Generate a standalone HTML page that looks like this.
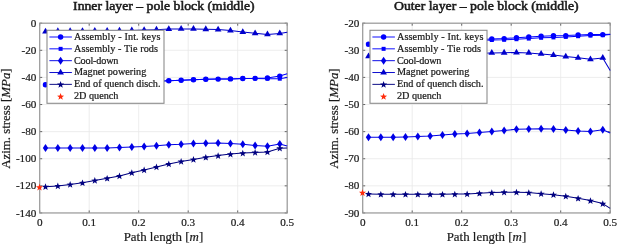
<!DOCTYPE html>
<html><head><meta charset="utf-8"><style>
html,body{margin:0;padding:0;background:#fff;width:617px;height:244px;overflow:hidden}
svg{display:block;will-change:transform}
text{font-family:"Liberation Serif",serif;fill:#1a1a1a}
.tk{font-size:11.2px;stroke:#1a1a1a;stroke-width:0.2px}
.lg{font-size:10.2px;stroke:#1a1a1a;stroke-width:0.22px}
.al{font-size:12.4px;stroke:#1a1a1a;stroke-width:0.2px}
.tt{font-size:13.3px;font-weight:normal;stroke:#1a1a1a;stroke-width:0.55px}
</style></head><body>
<svg width="617" height="244" viewBox="0 0 617 244">
<path d="M89.2 23.2V212.95M138.7 23.2V212.95M188.2 23.2V212.95M237.7 23.2V212.95M39.7 50.31H287.2M39.7 77.41H287.2M39.7 104.52H287.2M39.7 131.63H287.2M39.7 158.74H287.2M39.7 185.84H287.2" stroke="#e8e8e8" stroke-width="0.8" fill="none"/>
<path d="M39.7 212.95v-2.5M39.7 23.2v2.5M89.2 212.95v-2.5M89.2 23.2v2.5M138.7 212.95v-2.5M138.7 23.2v2.5M188.2 212.95v-2.5M188.2 23.2v2.5M237.7 212.95v-2.5M237.7 23.2v2.5M287.2 212.95v-2.5M287.2 23.2v2.5M39.7 23.2h2.5M287.2 23.2h-2.5M39.7 50.31h2.5M287.2 50.31h-2.5M39.7 77.41h2.5M287.2 77.41h-2.5M39.7 104.52h2.5M287.2 104.52h-2.5M39.7 131.63h2.5M287.2 131.63h-2.5M39.7 158.74h2.5M287.2 158.74h-2.5M39.7 185.84h2.5M287.2 185.84h-2.5M39.7 212.95h2.5M287.2 212.95h-2.5" stroke="#404040" stroke-width="0.8" fill="none"/>
<rect x="39.7" y="23.2" width="247.5" height="189.75" stroke="#9a9a9a" stroke-width="1.25" fill="none"/>
<path d="M45.5 84.7 L57.83 84.31 L70.16 83.92 L82.49 83.53 L94.82 83.14 L107.15 82.75 L119.48 82.36 L131.81 81.97 L144.14 81.58 L156.47 81.19 L168.8 80.8 L181.13 80.2 L193.46 79.7 L205.79 79.3 L218.12 79.1 L230.45 78.9 L242.78 78.45 L255.11 78.35 L267.44 77.95 L279.77 76.1 L287.2 73.7" stroke="#0000ff" stroke-width="1.05" fill="none" stroke-linejoin="round"/>
<circle cx="45.5" cy="84.7" r="2.7" fill="#0000ff"/>
<circle cx="57.83" cy="84.31" r="2.7" fill="#0000ff"/>
<circle cx="70.16" cy="83.92" r="2.7" fill="#0000ff"/>
<circle cx="82.49" cy="83.53" r="2.7" fill="#0000ff"/>
<circle cx="94.82" cy="83.14" r="2.7" fill="#0000ff"/>
<circle cx="107.15" cy="82.75" r="2.7" fill="#0000ff"/>
<circle cx="119.48" cy="82.36" r="2.7" fill="#0000ff"/>
<circle cx="131.81" cy="81.97" r="2.7" fill="#0000ff"/>
<circle cx="144.14" cy="81.58" r="2.7" fill="#0000ff"/>
<circle cx="156.47" cy="81.19" r="2.7" fill="#0000ff"/>
<circle cx="168.8" cy="80.8" r="2.7" fill="#0000ff"/>
<circle cx="181.13" cy="80.2" r="2.7" fill="#0000ff"/>
<circle cx="193.46" cy="79.7" r="2.7" fill="#0000ff"/>
<circle cx="205.79" cy="79.3" r="2.7" fill="#0000ff"/>
<circle cx="218.12" cy="79.1" r="2.7" fill="#0000ff"/>
<circle cx="230.45" cy="78.9" r="2.7" fill="#0000ff"/>
<circle cx="242.78" cy="78.45" r="2.7" fill="#0000ff"/>
<circle cx="255.11" cy="78.35" r="2.7" fill="#0000ff"/>
<circle cx="267.44" cy="77.95" r="2.7" fill="#0000ff"/>
<circle cx="279.77" cy="76.1" r="2.7" fill="#0000ff"/>
<path d="M45.5 84.7 L57.83 84.31 L70.16 83.92 L82.49 83.53 L94.82 83.14 L107.15 82.75 L119.48 82.36 L131.81 81.97 L144.14 81.58 L156.47 81.19 L168.8 80.8 L181.13 80.2 L193.46 79.7 L205.79 79.3 L218.12 79.1 L230.45 78.9 L242.78 78.45 L255.11 78.4 L267.44 78.7 L279.77 78.7 L287.2 77.4" stroke="#0000ff" stroke-width="1.05" fill="none" stroke-linejoin="round"/>
<rect x="43.5" y="82.7" width="4.0" height="4.0" fill="#0000ff"/>
<rect x="55.83" y="82.31" width="4.0" height="4.0" fill="#0000ff"/>
<rect x="68.16" y="81.92" width="4.0" height="4.0" fill="#0000ff"/>
<rect x="80.49" y="81.53" width="4.0" height="4.0" fill="#0000ff"/>
<rect x="92.82" y="81.14" width="4.0" height="4.0" fill="#0000ff"/>
<rect x="105.15" y="80.75" width="4.0" height="4.0" fill="#0000ff"/>
<rect x="117.48" y="80.36" width="4.0" height="4.0" fill="#0000ff"/>
<rect x="129.81" y="79.97" width="4.0" height="4.0" fill="#0000ff"/>
<rect x="142.14" y="79.58" width="4.0" height="4.0" fill="#0000ff"/>
<rect x="154.47" y="79.19" width="4.0" height="4.0" fill="#0000ff"/>
<rect x="166.8" y="78.8" width="4.0" height="4.0" fill="#0000ff"/>
<rect x="179.13" y="78.2" width="4.0" height="4.0" fill="#0000ff"/>
<rect x="191.46" y="77.7" width="4.0" height="4.0" fill="#0000ff"/>
<rect x="203.79" y="77.3" width="4.0" height="4.0" fill="#0000ff"/>
<rect x="216.12" y="77.1" width="4.0" height="4.0" fill="#0000ff"/>
<rect x="228.45" y="76.9" width="4.0" height="4.0" fill="#0000ff"/>
<rect x="240.78" y="76.45" width="4.0" height="4.0" fill="#0000ff"/>
<rect x="253.11" y="76.4" width="4.0" height="4.0" fill="#0000ff"/>
<rect x="265.44" y="76.7" width="4.0" height="4.0" fill="#0000ff"/>
<rect x="277.77" y="76.7" width="4.0" height="4.0" fill="#0000ff"/>
<path d="M45.5 147.9 L57.83 147.9 L70.16 147.9 L82.49 147.9 L94.82 147.9 L107.15 147.9 L119.48 147.6 L131.81 147.1 L144.14 146.4 L156.47 145.7 L168.8 144.7 L181.13 144.3 L193.46 143.5 L205.79 143.3 L218.12 143 L230.45 143.5 L242.78 144.3 L255.11 145.5 L267.44 146.2 L279.77 144 L287.2 146" stroke="#0000e6" stroke-width="1.05" fill="none" stroke-linejoin="round"/>
<polygon points="45.5,143.9 48.2,147.9 45.5,151.9 42.8,147.9" fill="#0000e6"/>
<polygon points="57.83,143.9 60.53,147.9 57.83,151.9 55.13,147.9" fill="#0000e6"/>
<polygon points="70.16,143.9 72.86,147.9 70.16,151.9 67.46,147.9" fill="#0000e6"/>
<polygon points="82.49,143.9 85.19,147.9 82.49,151.9 79.79,147.9" fill="#0000e6"/>
<polygon points="94.82,143.9 97.52,147.9 94.82,151.9 92.12,147.9" fill="#0000e6"/>
<polygon points="107.15,143.9 109.85,147.9 107.15,151.9 104.45,147.9" fill="#0000e6"/>
<polygon points="119.48,143.6 122.18,147.6 119.48,151.6 116.78,147.6" fill="#0000e6"/>
<polygon points="131.81,143.1 134.51,147.1 131.81,151.1 129.11,147.1" fill="#0000e6"/>
<polygon points="144.14,142.4 146.84,146.4 144.14,150.4 141.44,146.4" fill="#0000e6"/>
<polygon points="156.47,141.7 159.17,145.7 156.47,149.7 153.77,145.7" fill="#0000e6"/>
<polygon points="168.8,140.7 171.5,144.7 168.8,148.7 166.1,144.7" fill="#0000e6"/>
<polygon points="181.13,140.3 183.83,144.3 181.13,148.3 178.43,144.3" fill="#0000e6"/>
<polygon points="193.46,139.5 196.16,143.5 193.46,147.5 190.76,143.5" fill="#0000e6"/>
<polygon points="205.79,139.3 208.49,143.3 205.79,147.3 203.09,143.3" fill="#0000e6"/>
<polygon points="218.12,139 220.82,143 218.12,147 215.42,143" fill="#0000e6"/>
<polygon points="230.45,139.5 233.15,143.5 230.45,147.5 227.75,143.5" fill="#0000e6"/>
<polygon points="242.78,140.3 245.48,144.3 242.78,148.3 240.08,144.3" fill="#0000e6"/>
<polygon points="255.11,141.5 257.81,145.5 255.11,149.5 252.41,145.5" fill="#0000e6"/>
<polygon points="267.44,142.2 270.14,146.2 267.44,150.2 264.74,146.2" fill="#0000e6"/>
<polygon points="279.77,140 282.47,144 279.77,148 277.07,144" fill="#0000e6"/>
<path d="M45.5 31.5 L57.83 31.2 L70.16 31.1 L82.49 31 L94.82 30.9 L107.15 30.8 L119.48 30.6 L131.81 30.4 L144.14 30.1 L156.47 29.7 L168.8 29.1 L181.13 28.9 L193.46 28.9 L205.79 29.2 L218.12 29.6 L230.45 30.6 L242.78 32 L255.11 33.3 L267.44 34.4 L279.77 33.4 L287.2 32.2" stroke="#0000cc" stroke-width="1.05" fill="none" stroke-linejoin="round"/>
<polygon points="45.5,27.63 48.85,33.43 42.15,33.43" fill="#0000cc"/>
<polygon points="57.83,27.33 61.18,33.13 54.48,33.13" fill="#0000cc"/>
<polygon points="70.16,27.23 73.51,33.03 66.81,33.03" fill="#0000cc"/>
<polygon points="82.49,27.13 85.84,32.93 79.14,32.93" fill="#0000cc"/>
<polygon points="94.82,27.03 98.17,32.83 91.47,32.83" fill="#0000cc"/>
<polygon points="107.15,26.93 110.5,32.73 103.8,32.73" fill="#0000cc"/>
<polygon points="119.48,26.73 122.83,32.53 116.13,32.53" fill="#0000cc"/>
<polygon points="131.81,26.53 135.16,32.33 128.46,32.33" fill="#0000cc"/>
<polygon points="144.14,26.23 147.49,32.03 140.79,32.03" fill="#0000cc"/>
<polygon points="156.47,25.83 159.82,31.63 153.12,31.63" fill="#0000cc"/>
<polygon points="168.8,25.23 172.15,31.03 165.45,31.03" fill="#0000cc"/>
<polygon points="181.13,25.03 184.48,30.83 177.78,30.83" fill="#0000cc"/>
<polygon points="193.46,25.03 196.81,30.83 190.11,30.83" fill="#0000cc"/>
<polygon points="205.79,25.33 209.14,31.13 202.44,31.13" fill="#0000cc"/>
<polygon points="218.12,25.73 221.47,31.53 214.77,31.53" fill="#0000cc"/>
<polygon points="230.45,26.73 233.8,32.53 227.1,32.53" fill="#0000cc"/>
<polygon points="242.78,28.13 246.13,33.93 239.43,33.93" fill="#0000cc"/>
<polygon points="255.11,29.43 258.46,35.23 251.76,35.23" fill="#0000cc"/>
<polygon points="267.44,30.53 270.79,36.33 264.09,36.33" fill="#0000cc"/>
<polygon points="279.77,29.53 283.12,35.33 276.42,35.33" fill="#0000cc"/>
<path d="M45.5 186.7 L57.83 185.9 L70.16 184.5 L82.49 182.8 L94.82 180.5 L107.15 178.3 L119.48 175.9 L131.81 172.7 L144.14 170 L156.47 167 L168.8 163.9 L181.13 161.4 L193.46 159.5 L205.79 157.3 L218.12 155.6 L230.45 154.1 L242.78 153.1 L255.11 152.4 L267.44 152 L279.77 148.2 L287.2 148" stroke="#000080" stroke-width="1.05" fill="none" stroke-linejoin="round"/>
<polygon points="45.5,183.3 46.41,185.74 49.02,185.86 46.98,187.48 47.67,189.99 45.5,188.55 43.33,189.99 44.02,187.48 41.98,185.86 44.59,185.74" fill="#000080"/>
<polygon points="57.83,182.5 58.74,184.94 61.35,185.06 59.31,186.68 60,189.19 57.83,187.75 55.66,189.19 56.35,186.68 54.31,185.06 56.92,184.94" fill="#000080"/>
<polygon points="70.16,181.1 71.07,183.54 73.68,183.66 71.64,185.28 72.33,187.79 70.16,186.35 67.99,187.79 68.68,185.28 66.64,183.66 69.25,183.54" fill="#000080"/>
<polygon points="82.49,179.4 83.4,181.84 86.01,181.96 83.97,183.58 84.66,186.09 82.49,184.65 80.32,186.09 81.01,183.58 78.97,181.96 81.58,181.84" fill="#000080"/>
<polygon points="94.82,177.1 95.73,179.54 98.34,179.66 96.3,181.28 96.99,183.79 94.82,182.35 92.65,183.79 93.34,181.28 91.3,179.66 93.91,179.54" fill="#000080"/>
<polygon points="107.15,174.9 108.06,177.34 110.67,177.46 108.63,179.08 109.32,181.59 107.15,180.15 104.98,181.59 105.67,179.08 103.63,177.46 106.24,177.34" fill="#000080"/>
<polygon points="119.48,172.5 120.39,174.94 123,175.06 120.96,176.68 121.65,179.19 119.48,177.75 117.31,179.19 118,176.68 115.96,175.06 118.57,174.94" fill="#000080"/>
<polygon points="131.81,169.3 132.72,171.74 135.33,171.86 133.29,173.48 133.98,175.99 131.81,174.55 129.64,175.99 130.33,173.48 128.29,171.86 130.9,171.74" fill="#000080"/>
<polygon points="144.14,166.6 145.05,169.04 147.66,169.16 145.62,170.78 146.31,173.29 144.14,171.85 141.97,173.29 142.66,170.78 140.62,169.16 143.23,169.04" fill="#000080"/>
<polygon points="156.47,163.6 157.38,166.04 159.99,166.16 157.95,167.78 158.64,170.29 156.47,168.85 154.3,170.29 154.99,167.78 152.95,166.16 155.56,166.04" fill="#000080"/>
<polygon points="168.8,160.5 169.71,162.94 172.32,163.06 170.28,164.68 170.97,167.19 168.8,165.75 166.63,167.19 167.32,164.68 165.28,163.06 167.89,162.94" fill="#000080"/>
<polygon points="181.13,158 182.04,160.44 184.65,160.56 182.61,162.18 183.3,164.69 181.13,163.25 178.96,164.69 179.65,162.18 177.61,160.56 180.22,160.44" fill="#000080"/>
<polygon points="193.46,156.1 194.37,158.54 196.98,158.66 194.94,160.28 195.63,162.79 193.46,161.35 191.29,162.79 191.98,160.28 189.94,158.66 192.55,158.54" fill="#000080"/>
<polygon points="205.79,153.9 206.7,156.34 209.31,156.46 207.27,158.08 207.96,160.59 205.79,159.15 203.62,160.59 204.31,158.08 202.27,156.46 204.88,156.34" fill="#000080"/>
<polygon points="218.12,152.2 219.03,154.64 221.64,154.76 219.6,156.38 220.29,158.89 218.12,157.45 215.95,158.89 216.64,156.38 214.6,154.76 217.21,154.64" fill="#000080"/>
<polygon points="230.45,150.7 231.36,153.14 233.97,153.26 231.93,154.88 232.62,157.39 230.45,155.95 228.28,157.39 228.97,154.88 226.93,153.26 229.54,153.14" fill="#000080"/>
<polygon points="242.78,149.7 243.69,152.14 246.3,152.26 244.26,153.88 244.95,156.39 242.78,154.95 240.61,156.39 241.3,153.88 239.26,152.26 241.87,152.14" fill="#000080"/>
<polygon points="255.11,149 256.02,151.44 258.63,151.56 256.59,153.18 257.28,155.69 255.11,154.25 252.94,155.69 253.63,153.18 251.59,151.56 254.2,151.44" fill="#000080"/>
<polygon points="267.44,148.6 268.35,151.04 270.96,151.16 268.92,152.78 269.61,155.29 267.44,153.85 265.27,155.29 265.96,152.78 263.92,151.16 266.53,151.04" fill="#000080"/>
<polygon points="279.77,144.8 280.68,147.24 283.29,147.36 281.25,148.98 281.94,151.49 279.77,150.05 277.6,151.49 278.29,148.98 276.25,147.36 278.86,147.24" fill="#000080"/>
<polygon points="39.5,183.8 40.41,186.24 43.02,186.36 40.98,187.98 41.67,190.49 39.5,189.05 37.33,190.49 38.02,187.98 35.98,186.36 38.59,186.24" fill="#ff2a0a"/>
<text x="36.4" y="26.8" text-anchor="end" class="tk">0</text>
<text x="36.4" y="53.91" text-anchor="end" class="tk">-20</text>
<text x="36.4" y="81.01" text-anchor="end" class="tk">-40</text>
<text x="36.4" y="108.12" text-anchor="end" class="tk">-60</text>
<text x="36.4" y="135.23" text-anchor="end" class="tk">-80</text>
<text x="36.4" y="162.34" text-anchor="end" class="tk">-100</text>
<text x="36.4" y="189.44" text-anchor="end" class="tk">-120</text>
<text x="36.4" y="216.55" text-anchor="end" class="tk">-140</text>
<text x="39.7" y="226.2" text-anchor="middle" class="tk">0</text>
<text x="89.2" y="226.2" text-anchor="middle" class="tk">0.1</text>
<text x="138.7" y="226.2" text-anchor="middle" class="tk">0.2</text>
<text x="188.2" y="226.2" text-anchor="middle" class="tk">0.3</text>
<text x="237.7" y="226.2" text-anchor="middle" class="tk">0.4</text>
<text x="287.2" y="226.2" text-anchor="middle" class="tk">0.5</text>
<rect x="47" y="30.3" width="117" height="73" fill="#fff" stroke="#8c8c8c" stroke-width="1.1"/>
<path d="M49.4 37H71.9" stroke="#0000ff" stroke-width="0.95"/>
<circle cx="60.6" cy="37" r="2.7" fill="#0000ff"/>
<text x="74" y="39.9" class="lg" textLength="86.4" lengthAdjust="spacing">Assembly - Int. keys</text>
<path d="M49.4 48.84H71.9" stroke="#0000ff" stroke-width="0.95"/>
<rect x="58.6" y="46.84" width="4.0" height="4.0" fill="#0000ff"/>
<text x="74" y="51.74" class="lg" textLength="84" lengthAdjust="spacing">Assembly - Tie rods</text>
<path d="M49.4 60.68H71.9" stroke="#0000e6" stroke-width="0.95"/>
<polygon points="60.6,56.68 63.3,60.68 60.6,64.68 57.9,60.68" fill="#0000e6"/>
<text x="74" y="63.58" class="lg" textLength="44.4" lengthAdjust="spacing">Cool-down</text>
<path d="M49.4 72.52H71.9" stroke="#0000cc" stroke-width="0.95"/>
<polygon points="60.6,68.65 63.95,74.45 57.25,74.45" fill="#0000cc"/>
<text x="74" y="75.42" class="lg" textLength="72.3" lengthAdjust="spacing">Magnet powering</text>
<path d="M49.4 84.36H71.9" stroke="#000080" stroke-width="0.95"/>
<polygon points="60.6,80.96 61.51,83.4 64.12,83.52 62.08,85.14 62.77,87.65 60.6,86.21 58.43,87.65 59.12,85.14 57.08,83.52 59.69,83.4" fill="#000080"/>
<text x="74" y="87.26" class="lg" textLength="86.5" lengthAdjust="spacing">End of quench disch.</text>
<polygon points="60.6,93.1 61.51,95.54 64.12,95.66 62.08,97.28 62.77,99.79 60.6,98.35 58.43,99.79 59.12,97.28 57.08,95.66 59.69,95.54" fill="#ff2a0a"/>
<text x="74" y="99.1" class="lg" textLength="44.4" lengthAdjust="spacing">2D quench</text>
<text transform="translate(163.85,9.9) scale(1.0307,1)" x="0" y="0" text-anchor="middle" class="tt">Inner layer – pole block (middle)</text>
<text x="163.45" y="240.6" text-anchor="middle" class="al" textLength="79.5" lengthAdjust="spacingAndGlyphs">Path length [<tspan font-style="italic">m</tspan>]</text>
<text transform="translate(9.9,118.6) rotate(-90)" text-anchor="middle" class="al" textLength="100.5" lengthAdjust="spacingAndGlyphs">Azim. stress [<tspan font-style="italic">MPa</tspan>]</text>
<path d="M412.2 23.2V212.95M461.7 23.2V212.95M511.2 23.2V212.95M560.7 23.2V212.95M362.7 50.31H610.2M362.7 77.41H610.2M362.7 104.52H610.2M362.7 131.63H610.2M362.7 158.74H610.2M362.7 185.84H610.2" stroke="#e8e8e8" stroke-width="0.8" fill="none"/>
<path d="M362.7 212.95v-2.5M362.7 23.2v2.5M412.2 212.95v-2.5M412.2 23.2v2.5M461.7 212.95v-2.5M461.7 23.2v2.5M511.2 212.95v-2.5M511.2 23.2v2.5M560.7 212.95v-2.5M560.7 23.2v2.5M610.2 212.95v-2.5M610.2 23.2v2.5M362.7 23.2h2.5M610.2 23.2h-2.5M362.7 50.31h2.5M610.2 50.31h-2.5M362.7 77.41h2.5M610.2 77.41h-2.5M362.7 104.52h2.5M610.2 104.52h-2.5M362.7 131.63h2.5M610.2 131.63h-2.5M362.7 158.74h2.5M610.2 158.74h-2.5M362.7 185.84h2.5M610.2 185.84h-2.5M362.7 212.95h2.5M610.2 212.95h-2.5" stroke="#404040" stroke-width="0.8" fill="none"/>
<rect x="362.7" y="23.2" width="247.5" height="189.75" stroke="#9a9a9a" stroke-width="1.25" fill="none"/>
<path d="M368.5 44.1 L380.83 43.59 L393.16 43.08 L405.49 42.57 L417.82 42.06 L430.15 41.55 L442.48 41.04 L454.81 40.53 L467.14 40.02 L479.47 39.51 L491.8 39 L504.13 38.6 L516.46 37.8 L528.79 37 L541.12 36.2 L553.45 35.8 L565.78 35.6 L578.11 35 L590.44 34.6 L602.77 34.6 L610.2 34.3" stroke="#0000ff" stroke-width="1.05" fill="none" stroke-linejoin="round"/>
<circle cx="368.5" cy="44.1" r="2.7" fill="#0000ff"/>
<circle cx="380.83" cy="43.59" r="2.7" fill="#0000ff"/>
<circle cx="393.16" cy="43.08" r="2.7" fill="#0000ff"/>
<circle cx="405.49" cy="42.57" r="2.7" fill="#0000ff"/>
<circle cx="417.82" cy="42.06" r="2.7" fill="#0000ff"/>
<circle cx="430.15" cy="41.55" r="2.7" fill="#0000ff"/>
<circle cx="442.48" cy="41.04" r="2.7" fill="#0000ff"/>
<circle cx="454.81" cy="40.53" r="2.7" fill="#0000ff"/>
<circle cx="467.14" cy="40.02" r="2.7" fill="#0000ff"/>
<circle cx="479.47" cy="39.51" r="2.7" fill="#0000ff"/>
<circle cx="491.8" cy="39" r="2.7" fill="#0000ff"/>
<circle cx="504.13" cy="38.6" r="2.7" fill="#0000ff"/>
<circle cx="516.46" cy="37.8" r="2.7" fill="#0000ff"/>
<circle cx="528.79" cy="37" r="2.7" fill="#0000ff"/>
<circle cx="541.12" cy="36.2" r="2.7" fill="#0000ff"/>
<circle cx="553.45" cy="35.8" r="2.7" fill="#0000ff"/>
<circle cx="565.78" cy="35.6" r="2.7" fill="#0000ff"/>
<circle cx="578.11" cy="35" r="2.7" fill="#0000ff"/>
<circle cx="590.44" cy="34.6" r="2.7" fill="#0000ff"/>
<circle cx="602.77" cy="34.6" r="2.7" fill="#0000ff"/>
<path d="M368.5 44.6 L380.83 44.14 L393.16 43.68 L405.49 43.22 L417.82 42.76 L430.15 42.3 L442.48 41.84 L454.81 41.38 L467.14 40.92 L479.47 40.46 L491.8 40 L504.13 39.8 L516.46 39.2 L528.79 38.6 L541.12 37.8 L553.45 37.4 L565.78 36.9 L578.11 36.2 L590.44 35.6 L602.77 35.2 L610.2 34.6" stroke="#0000ff" stroke-width="1.05" fill="none" stroke-linejoin="round"/>
<rect x="366.5" y="42.6" width="4.0" height="4.0" fill="#0000ff"/>
<rect x="378.83" y="42.14" width="4.0" height="4.0" fill="#0000ff"/>
<rect x="391.16" y="41.68" width="4.0" height="4.0" fill="#0000ff"/>
<rect x="403.49" y="41.22" width="4.0" height="4.0" fill="#0000ff"/>
<rect x="415.82" y="40.76" width="4.0" height="4.0" fill="#0000ff"/>
<rect x="428.15" y="40.3" width="4.0" height="4.0" fill="#0000ff"/>
<rect x="440.48" y="39.84" width="4.0" height="4.0" fill="#0000ff"/>
<rect x="452.81" y="39.38" width="4.0" height="4.0" fill="#0000ff"/>
<rect x="465.14" y="38.92" width="4.0" height="4.0" fill="#0000ff"/>
<rect x="477.47" y="38.46" width="4.0" height="4.0" fill="#0000ff"/>
<rect x="489.8" y="38" width="4.0" height="4.0" fill="#0000ff"/>
<rect x="502.13" y="37.8" width="4.0" height="4.0" fill="#0000ff"/>
<rect x="514.46" y="37.2" width="4.0" height="4.0" fill="#0000ff"/>
<rect x="526.79" y="36.6" width="4.0" height="4.0" fill="#0000ff"/>
<rect x="539.12" y="35.8" width="4.0" height="4.0" fill="#0000ff"/>
<rect x="551.45" y="35.4" width="4.0" height="4.0" fill="#0000ff"/>
<rect x="563.78" y="34.9" width="4.0" height="4.0" fill="#0000ff"/>
<rect x="576.11" y="34.2" width="4.0" height="4.0" fill="#0000ff"/>
<rect x="588.44" y="33.6" width="4.0" height="4.0" fill="#0000ff"/>
<rect x="600.77" y="33.2" width="4.0" height="4.0" fill="#0000ff"/>
<path d="M368.5 137.2 L380.83 137.2 L393.16 137.2 L405.49 137 L417.82 136.6 L430.15 136 L442.48 134.9 L454.81 134.1 L467.14 133.4 L479.47 132.4 L491.8 131.4 L504.13 130.4 L516.46 129.3 L528.79 128.9 L541.12 128.7 L553.45 129.1 L565.78 130.1 L578.11 131 L590.44 131.6 L602.77 129.7 L610.2 132.9" stroke="#0000e6" stroke-width="1.05" fill="none" stroke-linejoin="round"/>
<polygon points="368.5,133.2 371.2,137.2 368.5,141.2 365.8,137.2" fill="#0000e6"/>
<polygon points="380.83,133.2 383.53,137.2 380.83,141.2 378.13,137.2" fill="#0000e6"/>
<polygon points="393.16,133.2 395.86,137.2 393.16,141.2 390.46,137.2" fill="#0000e6"/>
<polygon points="405.49,133 408.19,137 405.49,141 402.79,137" fill="#0000e6"/>
<polygon points="417.82,132.6 420.52,136.6 417.82,140.6 415.12,136.6" fill="#0000e6"/>
<polygon points="430.15,132 432.85,136 430.15,140 427.45,136" fill="#0000e6"/>
<polygon points="442.48,130.9 445.18,134.9 442.48,138.9 439.78,134.9" fill="#0000e6"/>
<polygon points="454.81,130.1 457.51,134.1 454.81,138.1 452.11,134.1" fill="#0000e6"/>
<polygon points="467.14,129.4 469.84,133.4 467.14,137.4 464.44,133.4" fill="#0000e6"/>
<polygon points="479.47,128.4 482.17,132.4 479.47,136.4 476.77,132.4" fill="#0000e6"/>
<polygon points="491.8,127.4 494.5,131.4 491.8,135.4 489.1,131.4" fill="#0000e6"/>
<polygon points="504.13,126.4 506.83,130.4 504.13,134.4 501.43,130.4" fill="#0000e6"/>
<polygon points="516.46,125.3 519.16,129.3 516.46,133.3 513.76,129.3" fill="#0000e6"/>
<polygon points="528.79,124.9 531.49,128.9 528.79,132.9 526.09,128.9" fill="#0000e6"/>
<polygon points="541.12,124.7 543.82,128.7 541.12,132.7 538.42,128.7" fill="#0000e6"/>
<polygon points="553.45,125.1 556.15,129.1 553.45,133.1 550.75,129.1" fill="#0000e6"/>
<polygon points="565.78,126.1 568.48,130.1 565.78,134.1 563.08,130.1" fill="#0000e6"/>
<polygon points="578.11,127 580.81,131 578.11,135 575.41,131" fill="#0000e6"/>
<polygon points="590.44,127.6 593.14,131.6 590.44,135.6 587.74,131.6" fill="#0000e6"/>
<polygon points="602.77,125.7 605.47,129.7 602.77,133.7 600.07,129.7" fill="#0000e6"/>
<path d="M368.5 56.3 L380.83 55.96 L393.16 55.62 L405.49 55.28 L417.82 54.94 L430.15 54.6 L442.48 54.26 L454.81 53.92 L467.14 53.58 L479.47 53.24 L491.8 52.9 L504.13 52.7 L516.46 52.5 L528.79 52.9 L541.12 53.9 L553.45 55 L565.78 56.5 L578.11 57.8 L590.44 59.3 L602.77 57.9 L610.2 70.5" stroke="#0000cc" stroke-width="1.05" fill="none" stroke-linejoin="round"/>
<polygon points="368.5,52.43 371.85,58.23 365.15,58.23" fill="#0000cc"/>
<polygon points="380.83,52.09 384.18,57.89 377.48,57.89" fill="#0000cc"/>
<polygon points="393.16,51.75 396.51,57.55 389.81,57.55" fill="#0000cc"/>
<polygon points="405.49,51.41 408.84,57.21 402.14,57.21" fill="#0000cc"/>
<polygon points="417.82,51.07 421.17,56.87 414.47,56.87" fill="#0000cc"/>
<polygon points="430.15,50.73 433.5,56.53 426.8,56.53" fill="#0000cc"/>
<polygon points="442.48,50.39 445.83,56.19 439.13,56.19" fill="#0000cc"/>
<polygon points="454.81,50.05 458.16,55.85 451.46,55.85" fill="#0000cc"/>
<polygon points="467.14,49.71 470.49,55.51 463.79,55.51" fill="#0000cc"/>
<polygon points="479.47,49.37 482.82,55.17 476.12,55.17" fill="#0000cc"/>
<polygon points="491.8,49.03 495.15,54.83 488.45,54.83" fill="#0000cc"/>
<polygon points="504.13,48.83 507.48,54.63 500.78,54.63" fill="#0000cc"/>
<polygon points="516.46,48.63 519.81,54.43 513.11,54.43" fill="#0000cc"/>
<polygon points="528.79,49.03 532.14,54.83 525.44,54.83" fill="#0000cc"/>
<polygon points="541.12,50.03 544.47,55.83 537.77,55.83" fill="#0000cc"/>
<polygon points="553.45,51.13 556.8,56.93 550.1,56.93" fill="#0000cc"/>
<polygon points="565.78,52.63 569.13,58.43 562.43,58.43" fill="#0000cc"/>
<polygon points="578.11,53.93 581.46,59.73 574.76,59.73" fill="#0000cc"/>
<polygon points="590.44,55.43 593.79,61.23 587.09,61.23" fill="#0000cc"/>
<polygon points="602.77,54.03 606.12,59.83 599.42,59.83" fill="#0000cc"/>
<path d="M368.5 193.9 L380.83 194.3 L393.16 194.3 L405.49 194.3 L417.82 194.3 L430.15 194.3 L442.48 194.3 L454.81 194.1 L467.14 193.9 L479.47 193.3 L491.8 192.6 L504.13 192.2 L516.46 192.2 L528.79 192.6 L541.12 193.7 L553.45 194.7 L565.78 196.2 L578.11 198.3 L590.44 200.6 L602.77 203.6 L610.2 208.4" stroke="#000080" stroke-width="1.05" fill="none" stroke-linejoin="round"/>
<polygon points="368.5,190.5 369.41,192.94 372.02,193.06 369.98,194.68 370.67,197.19 368.5,195.75 366.33,197.19 367.02,194.68 364.98,193.06 367.59,192.94" fill="#000080"/>
<polygon points="380.83,190.9 381.74,193.34 384.35,193.46 382.31,195.08 383,197.59 380.83,196.15 378.66,197.59 379.35,195.08 377.31,193.46 379.92,193.34" fill="#000080"/>
<polygon points="393.16,190.9 394.07,193.34 396.68,193.46 394.64,195.08 395.33,197.59 393.16,196.15 390.99,197.59 391.68,195.08 389.64,193.46 392.25,193.34" fill="#000080"/>
<polygon points="405.49,190.9 406.4,193.34 409.01,193.46 406.97,195.08 407.66,197.59 405.49,196.15 403.32,197.59 404.01,195.08 401.97,193.46 404.58,193.34" fill="#000080"/>
<polygon points="417.82,190.9 418.73,193.34 421.34,193.46 419.3,195.08 419.99,197.59 417.82,196.15 415.65,197.59 416.34,195.08 414.3,193.46 416.91,193.34" fill="#000080"/>
<polygon points="430.15,190.9 431.06,193.34 433.67,193.46 431.63,195.08 432.32,197.59 430.15,196.15 427.98,197.59 428.67,195.08 426.63,193.46 429.24,193.34" fill="#000080"/>
<polygon points="442.48,190.9 443.39,193.34 446,193.46 443.96,195.08 444.65,197.59 442.48,196.15 440.31,197.59 441,195.08 438.96,193.46 441.57,193.34" fill="#000080"/>
<polygon points="454.81,190.7 455.72,193.14 458.33,193.26 456.29,194.88 456.98,197.39 454.81,195.95 452.64,197.39 453.33,194.88 451.29,193.26 453.9,193.14" fill="#000080"/>
<polygon points="467.14,190.5 468.05,192.94 470.66,193.06 468.62,194.68 469.31,197.19 467.14,195.75 464.97,197.19 465.66,194.68 463.62,193.06 466.23,192.94" fill="#000080"/>
<polygon points="479.47,189.9 480.38,192.34 482.99,192.46 480.95,194.08 481.64,196.59 479.47,195.15 477.3,196.59 477.99,194.08 475.95,192.46 478.56,192.34" fill="#000080"/>
<polygon points="491.8,189.2 492.71,191.64 495.32,191.76 493.28,193.38 493.97,195.89 491.8,194.45 489.63,195.89 490.32,193.38 488.28,191.76 490.89,191.64" fill="#000080"/>
<polygon points="504.13,188.8 505.04,191.24 507.65,191.36 505.61,192.98 506.3,195.49 504.13,194.05 501.96,195.49 502.65,192.98 500.61,191.36 503.22,191.24" fill="#000080"/>
<polygon points="516.46,188.8 517.37,191.24 519.98,191.36 517.94,192.98 518.63,195.49 516.46,194.05 514.29,195.49 514.98,192.98 512.94,191.36 515.55,191.24" fill="#000080"/>
<polygon points="528.79,189.2 529.7,191.64 532.31,191.76 530.27,193.38 530.96,195.89 528.79,194.45 526.62,195.89 527.31,193.38 525.27,191.76 527.88,191.64" fill="#000080"/>
<polygon points="541.12,190.3 542.03,192.74 544.64,192.86 542.6,194.48 543.29,196.99 541.12,195.55 538.95,196.99 539.64,194.48 537.6,192.86 540.21,192.74" fill="#000080"/>
<polygon points="553.45,191.3 554.36,193.74 556.97,193.86 554.93,195.48 555.62,197.99 553.45,196.55 551.28,197.99 551.97,195.48 549.93,193.86 552.54,193.74" fill="#000080"/>
<polygon points="565.78,192.8 566.69,195.24 569.3,195.36 567.26,196.98 567.95,199.49 565.78,198.05 563.61,199.49 564.3,196.98 562.26,195.36 564.87,195.24" fill="#000080"/>
<polygon points="578.11,194.9 579.02,197.34 581.63,197.46 579.59,199.08 580.28,201.59 578.11,200.15 575.94,201.59 576.63,199.08 574.59,197.46 577.2,197.34" fill="#000080"/>
<polygon points="590.44,197.2 591.35,199.64 593.96,199.76 591.92,201.38 592.61,203.89 590.44,202.45 588.27,203.89 588.96,201.38 586.92,199.76 589.53,199.64" fill="#000080"/>
<polygon points="602.77,200.2 603.68,202.64 606.29,202.76 604.25,204.38 604.94,206.89 602.77,205.45 600.6,206.89 601.29,204.38 599.25,202.76 601.86,202.64" fill="#000080"/>
<polygon points="362.5,189.2 363.41,191.64 366.02,191.76 363.98,193.38 364.67,195.89 362.5,194.45 360.33,195.89 361.02,193.38 358.98,191.76 361.59,191.64" fill="#ff2a0a"/>
<text x="359.4" y="26.8" text-anchor="end" class="tk">-20</text>
<text x="359.4" y="53.91" text-anchor="end" class="tk">-30</text>
<text x="359.4" y="81.01" text-anchor="end" class="tk">-40</text>
<text x="359.4" y="108.12" text-anchor="end" class="tk">-50</text>
<text x="359.4" y="135.23" text-anchor="end" class="tk">-60</text>
<text x="359.4" y="162.34" text-anchor="end" class="tk">-70</text>
<text x="359.4" y="189.44" text-anchor="end" class="tk">-80</text>
<text x="359.4" y="216.55" text-anchor="end" class="tk">-90</text>
<text x="362.7" y="226.2" text-anchor="middle" class="tk">0</text>
<text x="412.2" y="226.2" text-anchor="middle" class="tk">0.1</text>
<text x="461.7" y="226.2" text-anchor="middle" class="tk">0.2</text>
<text x="511.2" y="226.2" text-anchor="middle" class="tk">0.3</text>
<text x="560.7" y="226.2" text-anchor="middle" class="tk">0.4</text>
<text x="610.2" y="226.2" text-anchor="middle" class="tk">0.5</text>
<rect x="370" y="30.3" width="117" height="73" fill="#fff" stroke="#8c8c8c" stroke-width="1.1"/>
<path d="M372.4 37H394.9" stroke="#0000ff" stroke-width="0.95"/>
<circle cx="383.6" cy="37" r="2.7" fill="#0000ff"/>
<text x="397" y="39.9" class="lg" textLength="86.4" lengthAdjust="spacing">Assembly - Int. keys</text>
<path d="M372.4 48.84H394.9" stroke="#0000ff" stroke-width="0.95"/>
<rect x="381.6" y="46.84" width="4.0" height="4.0" fill="#0000ff"/>
<text x="397" y="51.74" class="lg" textLength="84" lengthAdjust="spacing">Assembly - Tie rods</text>
<path d="M372.4 60.68H394.9" stroke="#0000e6" stroke-width="0.95"/>
<polygon points="383.6,56.68 386.3,60.68 383.6,64.68 380.9,60.68" fill="#0000e6"/>
<text x="397" y="63.58" class="lg" textLength="44.4" lengthAdjust="spacing">Cool-down</text>
<path d="M372.4 72.52H394.9" stroke="#0000cc" stroke-width="0.95"/>
<polygon points="383.6,68.65 386.95,74.45 380.25,74.45" fill="#0000cc"/>
<text x="397" y="75.42" class="lg" textLength="72.3" lengthAdjust="spacing">Magnet powering</text>
<path d="M372.4 84.36H394.9" stroke="#000080" stroke-width="0.95"/>
<polygon points="383.6,80.96 384.51,83.4 387.12,83.52 385.08,85.14 385.77,87.65 383.6,86.21 381.43,87.65 382.12,85.14 380.08,83.52 382.69,83.4" fill="#000080"/>
<text x="397" y="87.26" class="lg" textLength="86.5" lengthAdjust="spacing">End of quench disch.</text>
<polygon points="383.6,93.1 384.51,95.54 387.12,95.66 385.08,97.28 385.77,99.79 383.6,98.35 381.43,99.79 382.12,97.28 380.08,95.66 382.69,95.54" fill="#ff2a0a"/>
<text x="397" y="99.1" class="lg" textLength="44.4" lengthAdjust="spacing">2D quench</text>
<text transform="translate(486.3,9.9) scale(1.0364,1)" x="0" y="0" text-anchor="middle" class="tt">Outer layer – pole block (middle)</text>
<text x="486.45" y="240.6" text-anchor="middle" class="al" textLength="79.5" lengthAdjust="spacingAndGlyphs">Path length [<tspan font-style="italic">m</tspan>]</text>
<text transform="translate(337.6,118.6) rotate(-90)" text-anchor="middle" class="al" textLength="100.5" lengthAdjust="spacingAndGlyphs">Azim. stress [<tspan font-style="italic">MPa</tspan>]</text>
</svg></body></html>
